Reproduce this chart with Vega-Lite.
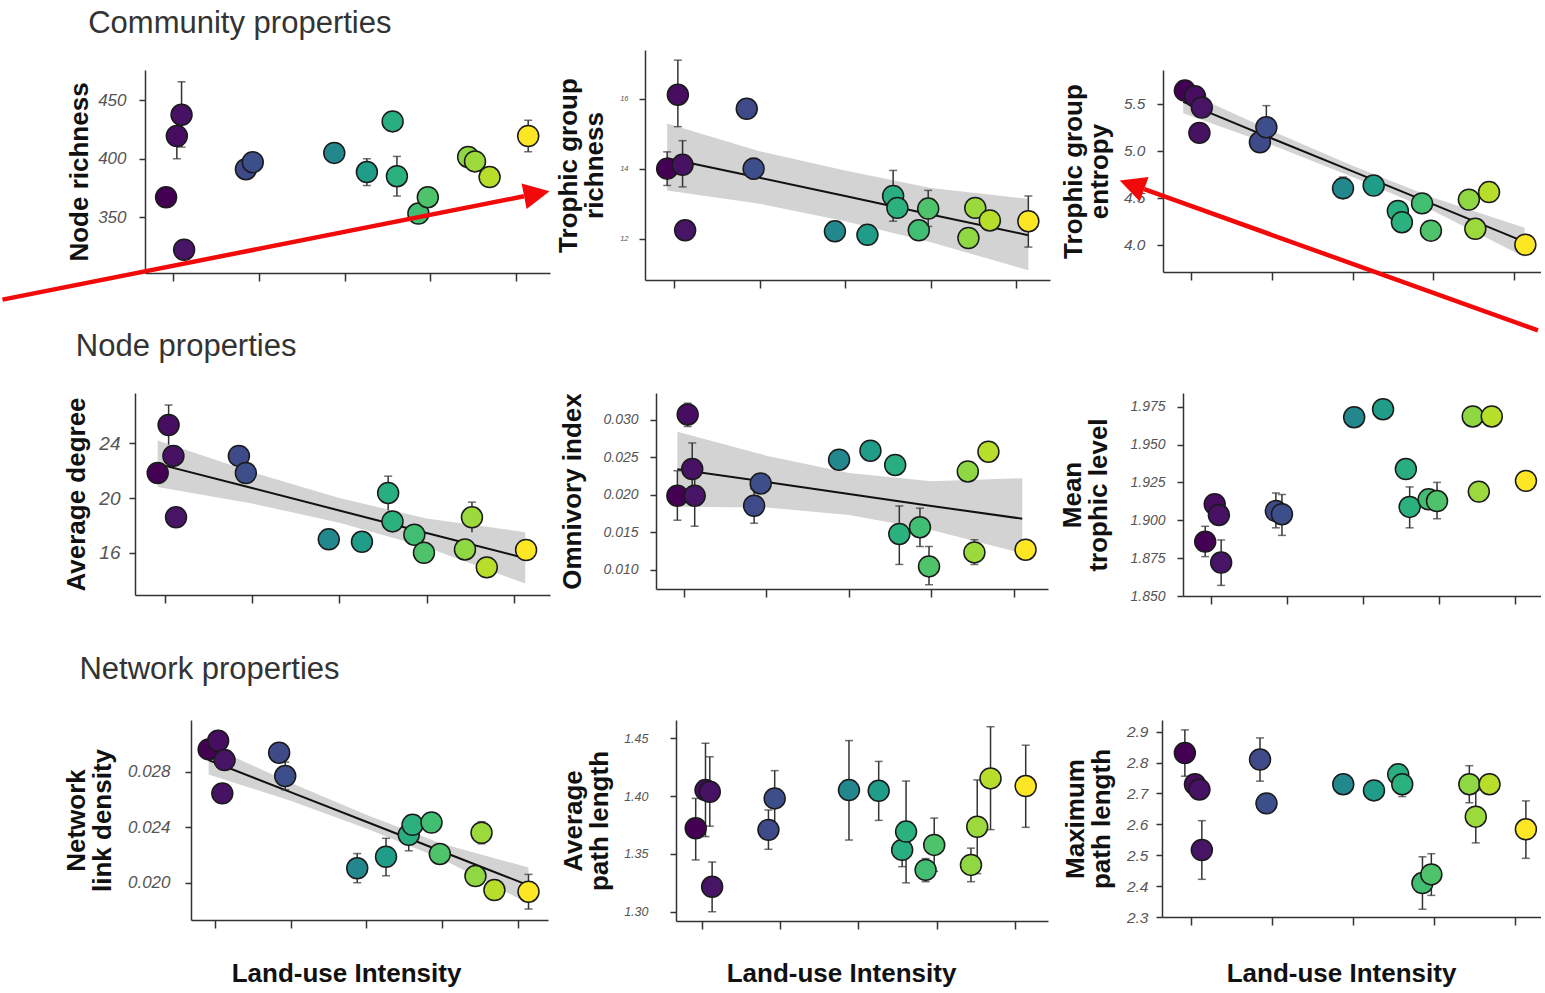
{
"$schema": "https://vega.github.io/schema/vega-lite/v6.json",
"background": "white",
"padding": {"left": 0, "top": 8, "right": 0, "bottom": 0},
"config": {
 "view": {"stroke": null},
 "font": "Liberation Sans",
 "axis": {"grid": false, "domainColor": "#333", "domainWidth": 1.5, "tickColor": "#333", "tickWidth": 1.5, "labelFont": "Liberation Sans", "labelFontStyle": "italic", "labelColor": "#555", "labelOverlap": false, "titleFont": "Liberation Sans", "titleFontWeight": "bold", "titleFontSize": 26, "titleColor": "#111", "titleLineHeight": 26},
 "axisY": {"tickSize": 6},
 "axisX": {"tickSize": 8, "labels": false},
 "title": {"font": "Liberation Sans", "fontSize": 31, "fontWeight": "normal", "color": "#333", "anchor": "start"}
},
"datasets": {
 "p1": [{"x":-0.08,"y":367},{"x":0.045,"y":419.5,"lo":400,"hi":438},{"x":0.10,"y":437.7,"lo":410,"hi":466},{"x":0.13,"y":322,"lo":316,"hi":328},{"x":0.85,"y":391},{"x":0.93,"y":397},{"x":1.88,"y":405,"lo":397,"hi":413},{"x":2.26,"y":388.6,"lo":377,"hi":400},{"x":2.56,"y":432},{"x":2.61,"y":385,"lo":368,"hi":402},{"x":2.86,"y":353},{"x":2.97,"y":367},{"x":3.44,"y":401.5},{"x":3.52,"y":397.7},{"x":3.69,"y":384.3},{"x":4.14,"y":419.5,"lo":406,"hi":433}],
 "p2": [{"x":-0.08,"y":14.0,"lo":13.52,"hi":14.48},{"x":0.045,"y":16.11,"lo":15.2,"hi":17.1},{"x":0.10,"y":14.11,"lo":13.48,"hi":14.8},{"x":0.13,"y":12.24},{"x":0.85,"y":15.71,"lo":15.5,"hi":15.92},{"x":0.93,"y":14.0,"lo":13.7,"hi":14.3},{"x":1.88,"y":12.21},{"x":2.26,"y":12.11,"lo":11.9,"hi":12.3},{"x":2.56,"y":13.22,"lo":12.5,"hi":13.95},{"x":2.61,"y":12.88},{"x":2.86,"y":12.24},{"x":2.97,"y":12.86,"lo":12.35,"hi":13.38},{"x":3.44,"y":12.02},{"x":3.52,"y":12.88},{"x":3.69,"y":12.52},{"x":4.14,"y":12.5,"lo":11.76,"hi":13.22}],
 "p3": [{"x":-0.08,"y":5.64},{"x":0.045,"y":5.58},{"x":0.10,"y":5.19},{"x":0.13,"y":5.46},{"x":0.85,"y":5.09},{"x":0.93,"y":5.25,"lo":5.02,"hi":5.48},{"x":1.88,"y":4.60,"lo":4.48,"hi":4.72},{"x":2.26,"y":4.63},{"x":2.56,"y":4.36},{"x":2.61,"y":4.24},{"x":2.86,"y":4.44},{"x":2.97,"y":4.15},{"x":3.44,"y":4.48},{"x":3.52,"y":4.17},{"x":3.69,"y":4.56},{"x":4.14,"y":4.0}],
 "p4": [{"x":-0.08,"y":21.83},{"x":0.045,"y":25.34,"lo":23.9,"hi":26.8},{"x":0.10,"y":23.08,"lo":22.4,"hi":23.8},{"x":0.13,"y":18.59},{"x":0.85,"y":23.08},{"x":0.93,"y":21.83},{"x":1.88,"y":16.98,"lo":16.6,"hi":17.4},{"x":2.26,"y":16.8},{"x":2.56,"y":20.37,"lo":19.1,"hi":21.6},{"x":2.61,"y":18.29},{"x":2.86,"y":17.32},{"x":2.97,"y":16.0},{"x":3.44,"y":16.24},{"x":3.52,"y":18.59,"lo":17.5,"hi":19.7},{"x":3.69,"y":14.93},{"x":4.14,"y":16.2}],
 "p5": [{"x":-0.08,"y":0.01987,"lo":0.0166,"hi":0.0232},{"x":0.045,"y":0.0307,"lo":0.0291,"hi":0.0322},{"x":0.10,"y":0.02343,"lo":0.0199,"hi":0.0269},{"x":0.13,"y":0.01987,"lo":0.0158,"hi":0.0239},{"x":0.85,"y":0.01853,"lo":0.0162,"hi":0.0208},{"x":0.93,"y":0.0215},{"x":1.88,"y":0.02467},{"x":2.26,"y":0.02587},{"x":2.56,"y":0.02397},{"x":2.61,"y":0.01477,"lo":0.0107,"hi":0.0185},{"x":2.86,"y":0.01567,"lo":0.0131,"hi":0.0182},{"x":2.97,"y":0.01044,"lo":0.0080,"hi":0.0131},{"x":3.44,"y":0.0231},{"x":3.52,"y":0.01231,"lo":0.0107,"hi":0.0140},{"x":3.69,"y":0.02573},{"x":4.14,"y":0.01267}],
 "p6": [{"x":-0.08,"y":1.8859,"lo":1.876,"hi":1.896},{"x":0.045,"y":1.9106},{"x":0.10,"y":1.9035},{"x":0.13,"y":1.8721,"lo":1.857,"hi":1.887},{"x":0.85,"y":1.9061,"lo":1.895,"hi":1.918},{"x":0.93,"y":1.904,"lo":1.890,"hi":1.917},{"x":1.88,"y":1.968},{"x":2.26,"y":1.9733},{"x":2.56,"y":1.9338},{"x":2.61,"y":1.9088,"lo":1.895,"hi":1.922},{"x":2.86,"y":1.9138},{"x":2.97,"y":1.9127,"lo":1.901,"hi":1.925},{"x":3.44,"y":1.9685},{"x":3.52,"y":1.9189},{"x":3.69,"y":1.9685},{"x":4.14,"y":1.926}],
 "p7": [{"x":-0.08,"y":0.02961},{"x":0.045,"y":0.03023},{"x":0.10,"y":0.02644},{"x":0.13,"y":0.02884},{"x":0.85,"y":0.02937},{"x":0.93,"y":0.02769,"lo":0.0267,"hi":0.0287},{"x":1.88,"y":0.02104,"lo":0.0200,"hi":0.0221},{"x":2.26,"y":0.02187,"lo":0.0205,"hi":0.0232},{"x":2.56,"y":0.02345,"lo":0.0223,"hi":0.0246},{"x":2.61,"y":0.02417},{"x":2.86,"y":0.02434},{"x":2.97,"y":0.02207},{"x":3.44,"y":0.02048},{"x":3.52,"y":0.0236,"lo":0.0228,"hi":0.0244},{"x":3.69,"y":0.01947},{"x":4.14,"y":0.01935,"lo":0.0181,"hi":0.0206}],
 "p8": [{"x":-0.08,"y":1.3722,"lo":1.3448,"hi":1.398},{"x":0.045,"y":1.4052,"lo":1.365,"hi":1.4457},{"x":0.10,"y":1.4037,"lo":1.374,"hi":1.434},{"x":0.13,"y":1.3216,"lo":1.300,"hi":1.343},{"x":0.85,"y":1.3708,"lo":1.354,"hi":1.388},{"x":0.93,"y":1.398,"lo":1.374,"hi":1.422},{"x":1.88,"y":1.4052,"lo":1.362,"hi":1.448},{"x":2.26,"y":1.4046,"lo":1.379,"hi":1.43},{"x":2.56,"y":1.3535,"lo":1.339,"hi":1.368},{"x":2.61,"y":1.3693,"lo":1.325,"hi":1.413},{"x":2.86,"y":1.3362,"lo":1.326,"hi":1.346},{"x":2.97,"y":1.3578,"lo":1.335,"hi":1.381},{"x":3.44,"y":1.3405,"lo":1.326,"hi":1.355},{"x":3.52,"y":1.3735,"lo":1.333,"hi":1.414},{"x":3.69,"y":1.4153,"lo":1.371,"hi":1.46},{"x":4.14,"y":1.4087,"lo":1.373,"hi":1.444}],
 "p9": [{"x":-0.08,"y":2.831,"lo":2.756,"hi":2.906},{"x":0.045,"y":2.73},{"x":0.10,"y":2.713},{"x":0.13,"y":2.517,"lo":2.422,"hi":2.612},{"x":0.85,"y":2.81,"lo":2.74,"hi":2.88},{"x":0.93,"y":2.668},{"x":1.88,"y":2.73},{"x":2.26,"y":2.71,"lo":2.69,"hi":2.74},{"x":2.56,"y":2.762},{"x":2.61,"y":2.73,"lo":2.69,"hi":2.76},{"x":2.86,"y":2.41,"lo":2.325,"hi":2.495},{"x":2.97,"y":2.438,"lo":2.37,"hi":2.505},{"x":3.44,"y":2.73,"lo":2.67,"hi":2.79},{"x":3.52,"y":2.625,"lo":2.54,"hi":2.71},{"x":3.69,"y":2.73,"lo":2.7,"hi":2.76},{"x":4.14,"y":2.584,"lo":2.49,"hi":2.676}],
 "f2": [{"x":-0.08,"fit":14.3,"lo":13.38,"hi":15.29},{"x":1,"fit":13.74,"lo":13.0,"hi":14.5},{"x":2,"fit":13.22,"lo":12.5,"hi":13.95},{"x":3,"fit":12.69,"lo":11.9,"hi":13.45},{"x":4.14,"fit":12.1,"lo":11.1,"hi":13.14}],
 "f3": [{"x":-0.1,"fit":5.52,"lo":5.40,"hi":5.64},{"x":1,"fit":5.13,"lo":5.06,"hi":5.21},{"x":2,"fit":4.78,"lo":4.72,"hi":4.84},{"x":3,"fit":4.43,"lo":4.36,"hi":4.50},{"x":4.13,"fit":4.03,"lo":3.87,"hi":4.18}],
 "f4": [{"x":-0.08,"fit":22.5,"lo":20.8,"hi":24.2},{"x":1,"fit":20.73,"lo":19.6,"hi":21.9},{"x":2,"fit":19.09,"lo":18.2,"hi":20.0},{"x":3,"fit":17.45,"lo":16.4,"hi":18.5},{"x":4.13,"fit":15.6,"lo":13.75,"hi":17.5}],
 "f5": [{"x":-0.08,"fit":0.0234,"lo":0.0184,"hi":0.0284},{"x":1,"fit":0.0217,"lo":0.0183,"hi":0.0252},{"x":2,"fit":0.0201,"lo":0.0173,"hi":0.0229},{"x":3,"fit":0.0185,"lo":0.0153,"hi":0.0218},{"x":4.1,"fit":0.0168,"lo":0.0122,"hi":0.0222}],
 "f7": [{"x":-0.08,"fit":0.02884,"lo":0.0278,"hi":0.0299},{"x":1,"fit":0.02653,"lo":0.0259,"hi":0.0272},{"x":2,"fit":0.02439,"lo":0.0239,"hi":0.0249},{"x":3,"fit":0.02225,"lo":0.0217,"hi":0.0228},{"x":4.14,"fit":0.01981,"lo":0.0185,"hi":0.0211}],
 "a1line": [{"x":-1.987,"y":279.2},{"x":4.09,"y":367.8}],
 "a1head": [{"x":4.241,"y":369.9}],
 "a2line": [{"x":4.296,"y":3.089},{"x":-0.584,"y":4.591}],
 "a2head": [{"x":-0.736,"y":4.638}]
},
"spacing": -3,
"vconcat": [
 {"title": {"text": "Community properties", "dx": 88, "offset": 10}, "bounds": "flush", "spacing": 95,
  "hconcat": [
   {"width": 415, "height": 223,
    "encoding": {"x": {"field": "x", "type": "quantitative", "title": null, "scale": {"domain": [-0.326, 4.394], "range": [10, 415], "nice": false, "zero": false}, "axis": {"values": [0,1,2,3,4], "labels": false, "tickSize": 8}}},
    "layer": [
     {"data": {"name": "p1"}, "mark": {"type": "rule", "color": "#333", "strokeWidth": 1.5},
      "encoding": {"y": {"field": "lo", "type": "quantitative", "title": "Node richness", "scale": {"domain": [302, 476.1], "range": [223, 20], "nice": false, "zero": false}, "axis": {"values": [350,400,450], "offset": -10, "labelFontSize": 17, "labelPadding": 13, "titlePadding": 5}}, "y2": {"field": "hi"}}},
     {"data": {"name": "p1"}, "mark": {"type": "tick", "orient": "horizontal", "color": "#333", "size": 8, "thickness": 1.5},
      "encoding": {"y": {"field": "lo", "type": "quantitative", "title": "Node richness", "scale": {"domain": [302, 476.1], "range": [223, 20], "nice": false, "zero": false}}}},
     {"data": {"name": "p1"}, "mark": {"type": "tick", "orient": "horizontal", "color": "#333", "size": 8, "thickness": 1.5},
      "encoding": {"y": {"field": "hi", "type": "quantitative", "title": "Node richness", "scale": {"domain": [302, 476.1], "range": [223, 20], "nice": false, "zero": false}}}},
     {"data": {"name": "p1"}, "mark": {"type": "circle", "size": 440, "opacity": 1, "stroke": "#1a1a1a", "strokeWidth": 1.5},
      "encoding": {"y": {"field": "y", "type": "quantitative", "title": "Node richness", "scale": {"domain": [302, 476.1], "range": [223, 20], "nice": false, "zero": false}, "axis": {"values": [350,400,450], "offset": -10, "labelFontSize": 17, "labelPadding": 13, "titlePadding": 5}},
       "color": {"field": "x", "type": "quantitative", "scale": {"scheme": "viridis", "domain": [-0.08, 4.14]}, "legend": null}}},
     {"data": {"name": "a1line"}, "mark": {"type": "line", "color": "#f20a0a", "strokeWidth": 4.5, "strokeJoin": "round"},
      "encoding": {"y": {"field": "y", "type": "quantitative", "title": "Node richness", "scale": {"domain": [302, 476.1], "range": [223, 20], "nice": false, "zero": false}}}},
     {"data": {"name": "a1head"}, "mark": {"type": "point", "shape": "M -1 -1 L 1 0 L -1 1 Z", "size": 676, "filled": true, "color": "#f20a0a", "opacity": 1, "angle": 348.85},
      "encoding": {"y": {"field": "y", "type": "quantitative", "title": "Node richness", "scale": {"domain": [302, 476.1], "range": [223, 20], "nice": false, "zero": false}}}}
    ]},
   {"width": 405, "height": 230,
    "encoding": {"x": {"field": "x", "type": "quantitative", "title": null, "scale": {"domain": [-0.339, 4.393], "nice": false, "zero": false}, "axis": {"values": [0,1,2,3,4], "labels": false, "tickSize": 8}}},
    "layer": [
     {"data": {"name": "f2"}, "mark": {"type": "area", "color": "#c8c8c8", "opacity": 0.8},
      "encoding": {"y": {"field": "lo", "type": "quantitative", "title": ["Trophic group", "richness"], "scale": {"domain": [10.82, 17.39], "nice": false, "zero": false}}, "y2": {"field": "hi"}}},
     {"data": {"name": "f2"}, "mark": {"type": "line", "color": "#111", "strokeWidth": 2},
      "encoding": {"y": {"field": "fit", "type": "quantitative", "title": ["Trophic group", "richness"], "scale": {"domain": [10.82, 17.39], "nice": false, "zero": false}}}},
     {"data": {"name": "p2"}, "mark": {"type": "rule", "color": "#333", "strokeWidth": 1.5},
      "encoding": {"y": {"field": "lo", "type": "quantitative", "title": ["Trophic group", "richness"], "scale": {"domain": [10.82, 17.39], "nice": false, "zero": false}}, "y2": {"field": "hi"}}},
     {"data": {"name": "p2"}, "mark": {"type": "tick", "orient": "horizontal", "color": "#333", "size": 8, "thickness": 1.5},
      "encoding": {"y": {"field": "lo", "type": "quantitative", "title": ["Trophic group", "richness"], "scale": {"domain": [10.82, 17.39], "nice": false, "zero": false}}}},
     {"data": {"name": "p2"}, "mark": {"type": "tick", "orient": "horizontal", "color": "#333", "size": 8, "thickness": 1.5},
      "encoding": {"y": {"field": "hi", "type": "quantitative", "title": ["Trophic group", "richness"], "scale": {"domain": [10.82, 17.39], "nice": false, "zero": false}}}},
     {"data": {"name": "p2"}, "mark": {"type": "circle", "size": 440, "opacity": 1, "stroke": "#1a1a1a", "strokeWidth": 1.5},
      "encoding": {"y": {"field": "y", "type": "quantitative", "title": ["Trophic group", "richness"], "scale": {"domain": [10.82, 17.39], "nice": false, "zero": false}, "axis": {"values": [12,14,16], "labelFontSize": 7.5, "labelPadding": 11, "titlePadding": 12}},
       "color": {"field": "x", "type": "quantitative", "scale": {"scheme": "viridis", "domain": [-0.08, 4.14]}, "legend": null}}}
    ]},
   {"width": 396, "height": 222,
    "encoding": {"x": {"field": "x", "type": "quantitative", "title": null, "scale": {"domain": [-0.351, 4.334], "range": [18, 396], "nice": false, "zero": false}, "axis": {"values": [0,1,2,3,4], "labels": false, "tickSize": 8}}},
    "layer": [
     {"data": {"name": "f3"}, "mark": {"type": "area", "color": "#c8c8c8", "opacity": 0.8},
      "encoding": {"y": {"field": "lo", "type": "quantitative", "title": ["Trophic group", "entropy"], "scale": {"domain": [3.71, 5.859], "range": [222, 20], "nice": false, "zero": false}}, "y2": {"field": "hi"}}},
     {"data": {"name": "f3"}, "mark": {"type": "line", "color": "#111", "strokeWidth": 2},
      "encoding": {"y": {"field": "fit", "type": "quantitative", "title": ["Trophic group", "entropy"], "scale": {"domain": [3.71, 5.859], "range": [222, 20], "nice": false, "zero": false}}}},
     {"data": {"name": "p3"}, "mark": {"type": "rule", "color": "#333", "strokeWidth": 1.5},
      "encoding": {"y": {"field": "lo", "type": "quantitative", "title": ["Trophic group", "entropy"], "scale": {"domain": [3.71, 5.859], "range": [222, 20], "nice": false, "zero": false}}, "y2": {"field": "hi"}}},
     {"data": {"name": "p3"}, "mark": {"type": "tick", "orient": "horizontal", "color": "#333", "size": 8, "thickness": 1.5},
      "encoding": {"y": {"field": "hi", "type": "quantitative", "title": ["Trophic group", "entropy"], "scale": {"domain": [3.71, 5.859], "range": [222, 20], "nice": false, "zero": false}}}},
     {"data": {"name": "p3"}, "mark": {"type": "circle", "size": 440, "opacity": 1, "stroke": "#1a1a1a", "strokeWidth": 1.5},
      "encoding": {"y": {"field": "y", "type": "quantitative", "title": ["Trophic group", "entropy"], "scale": {"domain": [3.71, 5.859], "range": [222, 20], "nice": false, "zero": false}, "axis": {"values": [4,4.5,5,5.5], "format": ".1f", "offset": -18, "labelFontSize": 15.5, "labelPadding": 12, "titlePadding": 11}},
       "color": {"field": "x", "type": "quantitative", "scale": {"scheme": "viridis", "domain": [-0.08, 4.14]}, "legend": null}}},
     {"data": {"name": "a2line"}, "mark": {"type": "line", "color": "#f20a0a", "strokeWidth": 4.5, "strokeJoin": "round"},
      "encoding": {"y": {"field": "y", "type": "quantitative", "title": ["Trophic group", "entropy"], "scale": {"domain": [3.71, 5.859], "range": [222, 20], "nice": false, "zero": false}}}},
     {"data": {"name": "a2head"}, "mark": {"type": "point", "shape": "M -1 -1 L 1 0 L -1 1 Z", "size": 676, "filled": true, "color": "#f20a0a", "opacity": 1, "angle": 199.74},
      "encoding": {"y": {"field": "y", "type": "quantitative", "title": ["Trophic group", "entropy"], "scale": {"domain": [3.71, 5.859], "range": [222, 20], "nice": false, "zero": false}}}}
    ]}
  ]},
 {"spacing": 49,
  "vconcat": [
   {"title": {"text": "Node properties", "dx": 12, "offset": 30}, "bounds": "flush", "spacing": 106,
    "hconcat": [
     {"width": 415, "height": 202,
      "encoding": {"x": {"field": "x", "type": "quantitative", "title": null, "scale": {"domain": [-0.34, 4.414], "nice": false, "zero": false}, "axis": {"values": [0,1,2,3,4], "labels": false, "tickSize": 8}}},
      "layer": [
       {"data": {"name": "f4"}, "mark": {"type": "area", "color": "#c8c8c8", "opacity": 0.8},
        "encoding": {"y": {"field": "lo", "type": "quantitative", "title": "Average degree", "scale": {"domain": [12.91, 27.68], "nice": false, "zero": false}}, "y2": {"field": "hi"}}},
       {"data": {"name": "f4"}, "mark": {"type": "line", "color": "#111", "strokeWidth": 2},
        "encoding": {"y": {"field": "fit", "type": "quantitative", "title": "Average degree", "scale": {"domain": [12.91, 27.68], "nice": false, "zero": false}}}},
       {"data": {"name": "p4"}, "mark": {"type": "rule", "color": "#333", "strokeWidth": 1.5},
        "encoding": {"y": {"field": "lo", "type": "quantitative", "title": "Average degree", "scale": {"domain": [12.91, 27.68], "nice": false, "zero": false}}, "y2": {"field": "hi"}}},
       {"data": {"name": "p4"}, "mark": {"type": "tick", "orient": "horizontal", "color": "#333", "size": 8, "thickness": 1.5},
        "encoding": {"y": {"field": "hi", "type": "quantitative", "title": "Average degree", "scale": {"domain": [12.91, 27.68], "nice": false, "zero": false}}}},
       {"data": {"name": "p4"}, "mark": {"type": "circle", "size": 440, "opacity": 1, "stroke": "#1a1a1a", "strokeWidth": 1.5},
        "encoding": {"y": {"field": "y", "type": "quantitative", "title": "Average degree", "scale": {"domain": [12.91, 27.68], "nice": false, "zero": false}, "axis": {"values": [16,20,24], "labelFontSize": 19, "labelPadding": 9, "titlePadding": 9}},
         "color": {"field": "x", "type": "quantitative", "scale": {"scheme": "viridis", "domain": [-0.08, 4.14]}, "legend": null}}}
      ]},
     {"width": 392, "height": 196,
      "encoding": {"x": {"field": "x", "type": "quantitative", "title": null, "scale": {"domain": [-0.339, 4.412], "nice": false, "zero": false}, "axis": {"values": [0,1,2,3,4], "labels": false, "tickSize": 8}}},
      "layer": [
       {"data": {"name": "f5"}, "mark": {"type": "area", "color": "#c8c8c8", "opacity": 0.8},
        "encoding": {"y": {"field": "lo", "type": "quantitative", "title": "Omnivory index", "scale": {"domain": [0.00743, 0.03356], "nice": false, "zero": false}}, "y2": {"field": "hi"}}},
       {"data": {"name": "f5"}, "mark": {"type": "line", "color": "#111", "strokeWidth": 2},
        "encoding": {"y": {"field": "fit", "type": "quantitative", "title": "Omnivory index", "scale": {"domain": [0.00743, 0.03356], "nice": false, "zero": false}}}},
       {"data": {"name": "p5"}, "mark": {"type": "rule", "color": "#333", "strokeWidth": 1.5},
        "encoding": {"y": {"field": "lo", "type": "quantitative", "title": "Omnivory index", "scale": {"domain": [0.00743, 0.03356], "nice": false, "zero": false}}, "y2": {"field": "hi"}}},
       {"data": {"name": "p5"}, "mark": {"type": "tick", "orient": "horizontal", "color": "#333", "size": 8, "thickness": 1.5},
        "encoding": {"y": {"field": "lo", "type": "quantitative", "title": "Omnivory index", "scale": {"domain": [0.00743, 0.03356], "nice": false, "zero": false}}}},
       {"data": {"name": "p5"}, "mark": {"type": "tick", "orient": "horizontal", "color": "#333", "size": 8, "thickness": 1.5},
        "encoding": {"y": {"field": "hi", "type": "quantitative", "title": "Omnivory index", "scale": {"domain": [0.00743, 0.03356], "nice": false, "zero": false}}}},
       {"data": {"name": "p5"}, "mark": {"type": "circle", "size": 440, "opacity": 1, "stroke": "#1a1a1a", "strokeWidth": 1.5},
        "encoding": {"y": {"field": "y", "type": "quantitative", "title": "Omnivory index", "scale": {"domain": [0.00743, 0.03356], "nice": false, "zero": false}, "axis": {"values": [0.01,0.015,0.02,0.025,0.03], "format": ".3f", "labelFontSize": 14, "labelPadding": 12, "titlePadding": 17}},
         "color": {"field": "x", "type": "quantitative", "scale": {"scheme": "viridis", "domain": [-0.08, 4.14]}, "legend": null}}}
      ]},
     {"width": 387, "height": 203,
      "encoding": {"x": {"field": "x", "type": "quantitative", "title": null, "scale": {"domain": [-0.372, 4.338], "range": [29, 387], "nice": false, "zero": false}, "axis": {"values": [0,1,2,3,4], "labels": false, "tickSize": 8}}},
      "layer": [
       {"data": {"name": "p6"}, "mark": {"type": "rule", "color": "#333", "strokeWidth": 1.5},
        "encoding": {"y": {"field": "lo", "type": "quantitative", "title": ["Mean", "trophic level"], "scale": {"domain": [1.85, 1.984], "nice": false, "zero": false}}, "y2": {"field": "hi"}}},
       {"data": {"name": "p6"}, "mark": {"type": "tick", "orient": "horizontal", "color": "#333", "size": 8, "thickness": 1.5},
        "encoding": {"y": {"field": "lo", "type": "quantitative", "title": ["Mean", "trophic level"], "scale": {"domain": [1.85, 1.984], "nice": false, "zero": false}}}},
       {"data": {"name": "p6"}, "mark": {"type": "tick", "orient": "horizontal", "color": "#333", "size": 8, "thickness": 1.5},
        "encoding": {"y": {"field": "hi", "type": "quantitative", "title": ["Mean", "trophic level"], "scale": {"domain": [1.85, 1.984], "nice": false, "zero": false}}}},
       {"data": {"name": "p6"}, "mark": {"type": "circle", "size": 440, "opacity": 1, "stroke": "#1a1a1a", "strokeWidth": 1.5},
        "encoding": {"y": {"field": "y", "type": "quantitative", "title": ["Mean", "trophic level"], "scale": {"domain": [1.85, 1.984], "nice": false, "zero": false}, "axis": {"values": [1.85,1.875,1.9,1.925,1.95,1.975], "format": ".3f", "offset": -29, "labelFontSize": 14, "labelPadding": 12, "titlePadding": 18}},
         "color": {"field": "x", "type": "quantitative", "scale": {"scheme": "viridis", "domain": [-0.08, 4.14]}, "legend": null}}}
      ]}
    ]},
   {"title": {"text": "Network properties", "dx": 16, "offset": 34}, "bounds": "flush", "spacing": 114,
    "hconcat": [
     {"width": 413, "height": 200,
      "encoding": {"x": {"field": "x", "type": "quantitative", "title": "Land-use Intensity", "scale": {"domain": [-0.313, 4.397], "range": [56, 413], "nice": false, "zero": false}, "axis": {"values": [0,1,2,3,4], "labels": false, "tickSize": 8, "titleX": 211, "titlePadding": 32}}},
      "layer": [
       {"data": {"name": "f7"}, "mark": {"type": "area", "color": "#c8c8c8", "opacity": 0.8},
        "encoding": {"y": {"field": "lo", "type": "quantitative", "title": ["Network", "link density"], "scale": {"domain": [0.01731, 0.03173], "nice": false, "zero": false}}, "y2": {"field": "hi"}}},
       {"data": {"name": "f7"}, "mark": {"type": "line", "color": "#111", "strokeWidth": 2},
        "encoding": {"y": {"field": "fit", "type": "quantitative", "title": ["Network", "link density"], "scale": {"domain": [0.01731, 0.03173], "nice": false, "zero": false}}}},
       {"data": {"name": "p7"}, "mark": {"type": "rule", "color": "#333", "strokeWidth": 1.5},
        "encoding": {"y": {"field": "lo", "type": "quantitative", "title": ["Network", "link density"], "scale": {"domain": [0.01731, 0.03173], "nice": false, "zero": false}}, "y2": {"field": "hi"}}},
       {"data": {"name": "p7"}, "mark": {"type": "tick", "orient": "horizontal", "color": "#333", "size": 8, "thickness": 1.5},
        "encoding": {"y": {"field": "lo", "type": "quantitative", "title": ["Network", "link density"], "scale": {"domain": [0.01731, 0.03173], "nice": false, "zero": false}}}},
       {"data": {"name": "p7"}, "mark": {"type": "tick", "orient": "horizontal", "color": "#333", "size": 8, "thickness": 1.5},
        "encoding": {"y": {"field": "hi", "type": "quantitative", "title": ["Network", "link density"], "scale": {"domain": [0.01731, 0.03173], "nice": false, "zero": false}}}},
       {"data": {"name": "p7"}, "mark": {"type": "circle", "size": 440, "opacity": 1, "stroke": "#1a1a1a", "strokeWidth": 1.5},
        "encoding": {"y": {"field": "y", "type": "quantitative", "title": ["Network", "link density"], "scale": {"domain": [0.01731, 0.03173], "nice": false, "zero": false}, "axis": {"values": [0.02,0.024,0.028], "format": ".3f", "offset": -56, "labelFontSize": 17, "labelPadding": 15, "titlePadding": 12}},
         "color": {"field": "x", "type": "quantitative", "scale": {"scheme": "viridis", "domain": [-0.08, 4.14]}, "legend": null}}}
      ]},
     {"width": 386, "height": 201,
      "encoding": {"x": {"field": "x", "type": "quantitative", "title": "Land-use Intensity", "scale": {"domain": [-0.332, 4.425], "range": [14, 386], "nice": false, "zero": false}, "axis": {"values": [0,1,2,3,4], "labels": false, "tickSize": 8, "titleX": 179, "titlePadding": 31}}},
      "layer": [
       {"data": {"name": "p8"}, "mark": {"type": "rule", "color": "#333", "strokeWidth": 1.5},
        "encoding": {"y": {"field": "lo", "type": "quantitative", "title": ["Average", "path length"], "scale": {"domain": [1.292, 1.4658], "nice": false, "zero": false}}, "y2": {"field": "hi"}}},
       {"data": {"name": "p8"}, "mark": {"type": "tick", "orient": "horizontal", "color": "#333", "size": 8, "thickness": 1.5},
        "encoding": {"y": {"field": "lo", "type": "quantitative", "title": ["Average", "path length"], "scale": {"domain": [1.292, 1.4658], "nice": false, "zero": false}}}},
       {"data": {"name": "p8"}, "mark": {"type": "tick", "orient": "horizontal", "color": "#333", "size": 8, "thickness": 1.5},
        "encoding": {"y": {"field": "hi", "type": "quantitative", "title": ["Average", "path length"], "scale": {"domain": [1.292, 1.4658], "nice": false, "zero": false}}}},
       {"data": {"name": "p8"}, "mark": {"type": "circle", "size": 440, "opacity": 1, "stroke": "#1a1a1a", "strokeWidth": 1.5},
        "encoding": {"y": {"field": "y", "type": "quantitative", "title": ["Average", "path length"], "scale": {"domain": [1.292, 1.4658], "nice": false, "zero": false}, "axis": {"values": [1.3,1.35,1.4,1.45], "format": ".2f", "offset": -14, "labelFontSize": 12.5, "labelPadding": 22, "titlePadding": 11}},
         "color": {"field": "x", "type": "quantitative", "scale": {"scheme": "viridis", "domain": [-0.08, 4.14]}, "legend": null}}}
      ]},
     {"width": 379, "height": 197,
      "encoding": {"x": {"field": "x", "type": "quantitative", "title": "Land-use Intensity", "scale": {"domain": [-0.363, 4.327], "nice": false, "zero": false}, "axis": {"values": [0,1,2,3,4], "labels": false, "tickSize": 8, "titleX": 179, "titlePadding": 35}}},
      "layer": [
       {"data": {"name": "p9"}, "mark": {"type": "rule", "color": "#333", "strokeWidth": 1.5},
        "encoding": {"y": {"field": "lo", "type": "quantitative", "title": ["Maximum", "path length"], "scale": {"domain": [2.3, 2.938], "nice": false, "zero": false}, "axis": {"values": [2.3,2.4,2.5,2.6,2.7,2.8,2.9], "format": ".1f", "labelOverlap": false, "labelSeparation": 0, "labelFontSize": 15.5, "labelPadding": 8, "titlePadding": 12}}, "y2": {"field": "hi"}}},
       {"data": {"name": "p9"}, "mark": {"type": "tick", "orient": "horizontal", "color": "#333", "size": 8, "thickness": 1.5},
        "encoding": {"y": {"field": "lo", "type": "quantitative", "title": ["Maximum", "path length"], "scale": {"domain": [2.3, 2.938], "nice": false, "zero": false}, "axis": {"values": [2.3,2.4,2.5,2.6,2.7,2.8,2.9], "format": ".1f", "labelOverlap": false, "labelSeparation": 0, "labelFontSize": 15.5, "labelPadding": 8, "titlePadding": 12}}}},
       {"data": {"name": "p9"}, "mark": {"type": "tick", "orient": "horizontal", "color": "#333", "size": 8, "thickness": 1.5},
        "encoding": {"y": {"field": "hi", "type": "quantitative", "title": ["Maximum", "path length"], "scale": {"domain": [2.3, 2.938], "nice": false, "zero": false}, "axis": {"values": [2.3,2.4,2.5,2.6,2.7,2.8,2.9], "format": ".1f", "labelOverlap": false, "labelSeparation": 0, "labelFontSize": 15.5, "labelPadding": 8, "titlePadding": 12}}}},
       {"data": {"name": "p9"}, "mark": {"type": "circle", "size": 440, "opacity": 1, "stroke": "#1a1a1a", "strokeWidth": 1.5},
        "encoding": {"y": {"field": "y", "type": "quantitative", "title": ["Maximum", "path length"], "scale": {"domain": [2.3, 2.938], "nice": false, "zero": false}, "axis": {"values": [2.3,2.4,2.5,2.6,2.7,2.8,2.9], "format": ".1f", "labelOverlap": false, "labelSeparation": 0, "labelFontSize": 15.5, "labelPadding": 8, "titlePadding": 12}},
         "color": {"field": "x", "type": "quantitative", "scale": {"scheme": "viridis", "domain": [-0.08, 4.14]}, "legend": null}}}
      ]}
    ]}
  ]}
]
}
